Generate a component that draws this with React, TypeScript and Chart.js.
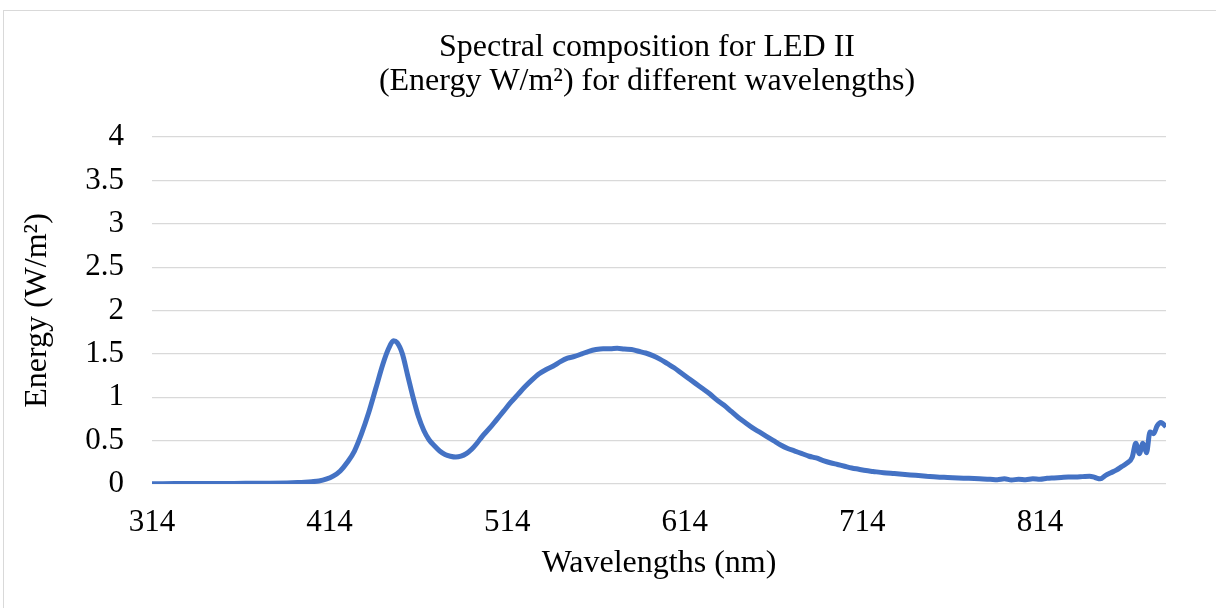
import React, { useEffect, useRef } from "react";
import { Chart, registerables } from "chart.js";

Chart.register(...registerables);

const titleLines = ["Spectral composition for LED II", "(Energy W/m²) for different wavelengths)"];
const xAxisTitle = "Wavelengths (nm)";
const yAxisTitle = "Energy (W/m²)";
const xTickValues = [314, 414, 514, 614, 714, 814];

const wavelengths = [
  314, 320, 330, 340, 350, 360, 370, 380, 390, 396, 400, 404, 408, 412, 416, 420, 424, 428, 432, 436,
  440, 444, 447, 450, 452, 455, 458, 461, 464, 467, 470, 473, 476, 479, 482, 485, 488, 491, 494, 497,
  500, 504, 508, 512, 516, 520, 524, 528, 532, 536, 540, 544, 548, 552, 556, 560, 564, 568, 572, 576,
  580, 584, 588, 592, 596, 600, 604, 608, 612, 616, 620, 624, 628, 632, 636, 640, 644, 648, 652, 656,
  660, 664, 668, 672, 676, 680, 684, 688, 692, 696, 700, 704, 708, 712, 716, 720, 726, 732, 738, 744,
  750, 756, 762, 768, 774, 780, 786, 790, 794, 798, 802, 806, 810, 814, 818, 822, 826, 830, 834, 838,
  842, 845, 848, 851, 854, 857, 860, 863, 866, 868, 870, 872, 874, 876, 878, 880, 882, 883, 885,
];

const energy = [
  0.004, 0.004, 0.005, 0.006, 0.007, 0.007, 0.008, 0.009, 0.012, 0.016, 0.02, 0.026, 0.035, 0.055, 0.09, 0.15, 0.25, 0.38, 0.58, 0.82,
  1.1, 1.38, 1.55, 1.65, 1.63, 1.5, 1.25, 1.0, 0.78, 0.62, 0.51, 0.44, 0.38, 0.34, 0.32, 0.31, 0.32, 0.35, 0.4, 0.47,
  0.55, 0.64, 0.74, 0.84, 0.94, 1.03, 1.12, 1.2, 1.27, 1.32, 1.36, 1.41, 1.45, 1.47, 1.5, 1.53, 1.55, 1.56, 1.56, 1.565,
  1.555, 1.55, 1.53, 1.51, 1.48, 1.44, 1.39, 1.34, 1.28, 1.22, 1.16, 1.1, 1.04, 0.97, 0.91, 0.84, 0.77, 0.71, 0.65, 0.6,
  0.55, 0.5, 0.45, 0.41, 0.38, 0.35, 0.32, 0.3, 0.27, 0.245, 0.225, 0.205, 0.185, 0.17, 0.155, 0.145, 0.13, 0.12, 0.11, 0.1,
  0.09, 0.08, 0.075, 0.07, 0.065, 0.06, 0.055, 0.05, 0.06, 0.045, 0.055, 0.05, 0.06, 0.055, 0.065, 0.07, 0.075, 0.08, 0.08, 0.085,
  0.09, 0.075, 0.06, 0.1, 0.13, 0.16, 0.2, 0.24, 0.31, 0.47, 0.35, 0.47, 0.36, 0.6, 0.58, 0.67, 0.71, 0.7, 0.66,
];

const FONT = "'Liberation Serif', 'Times New Roman', serif";
const CANVAS_W = 1291;
const CANVAS_H = 608;
const PAD_LEFT = 20;
const PAD_RIGHT = 17;

const frame = {
  id: "frame",
  beforeDraw(chart: any) {
    const ctx = chart.ctx;
    ctx.save();
    ctx.fillStyle = "#ffffff";
    ctx.fillRect(0, 0, chart.width, chart.height);
    ctx.strokeStyle = "#d9d9d9";
    ctx.lineWidth = 1;
    ctx.strokeRect(3.5, 10.5, chart.width - 7, chart.height + 20);
    ctx.restore();
  },
};

export default function App() {
  const ref = useRef<HTMLCanvasElement | null>(null);
  useEffect(() => {
    if (!ref.current) return;
    const chart = new Chart(ref.current, {
      type: "line",
      data: {
        datasets: [
          {
            data: wavelengths.map((w, i) => ({ x: w, y: energy[i] })),
            borderColor: "#4472C4",
            backgroundColor: "#4472C4",
            borderWidth: 5,
            pointRadius: 0,
            cubicInterpolationMode: "monotone",
            fill: false,
            yAxisID: "y",
          },
        ],
      },
      options: {
        responsive: false,
        animation: false,
        layout: { padding: { left: PAD_LEFT, right: PAD_RIGHT, top: 0, bottom: 0 } },
        plugins: {
          legend: { display: false },
          tooltip: { enabled: false },
          title: {
            display: true,
            text: titleLines,
            color: "#000000",
            font: { family: FONT, size: 32, weight: "normal", lineHeight: 34 / 32 },
            padding: { top: 31, bottom: 38 },
          },
        },
        scales: {
          x: {
            type: "linear",
            min: 314,
            max: 885,
            afterBuildTicks: (axis: any) => {
              axis.ticks = xTickValues.map((v) => ({ value: v }));
            },
            afterFit: (scale: any) => {
              scale.height = 124;
            },
            grid: { display: false, drawTicks: false },
            border: { display: false },
            ticks: {
              autoSkip: false,
              maxRotation: 0,
              padding: 20,
              color: "#000000",
              font: { family: FONT, size: 31 },
              callback: (v: any) => String(v),
            },
            title: {
              display: true,
              text: xAxisTitle,
              color: "#000000",
              font: { family: FONT, size: 32, lineHeight: 1.2 },
              padding: { top: 4, bottom: 25 },
            },
          },
          y: {
            min: 0,
            max: 4,
            afterFit: (scale: any) => {
              scale.width = 132;
            },
            grid: { color: "#d9d9d9", lineWidth: 1.2, drawTicks: false },
            border: { display: false },
            ticks: {
              stepSize: 0.5,
              padding: 28,
              color: "#000000",
              font: { family: FONT, size: 31 },
              callback: (v: any) => String(Number(v)),
            },
            title: {
              display: true,
              text: yAxisTitle,
              color: "#000000",
              font: { family: FONT, size: 32, lineHeight: 1.2 },
              padding: { top: -2, bottom: 0 },
            },
          },
          ySpacer: {
            position: "right",
            min: 0,
            max: 4,
            afterFit: (scale: any) => {
              scale.width = CANVAS_W - PAD_RIGHT - 1166;
            },
            grid: { display: false, drawTicks: false },
            border: { display: false },
            ticks: { display: false },
          },
        },
      },
      plugins: [frame],
    } as any);
    return () => chart.destroy();
  }, []);
  return (
    <div style={{ position: "absolute", left: 0, top: 0, width: 1216, height: 608, overflow: "hidden" }}>
      <canvas ref={ref} width={CANVAS_W} height={CANVAS_H} style={{ display: "block" }} />
    </div>
  );
}
